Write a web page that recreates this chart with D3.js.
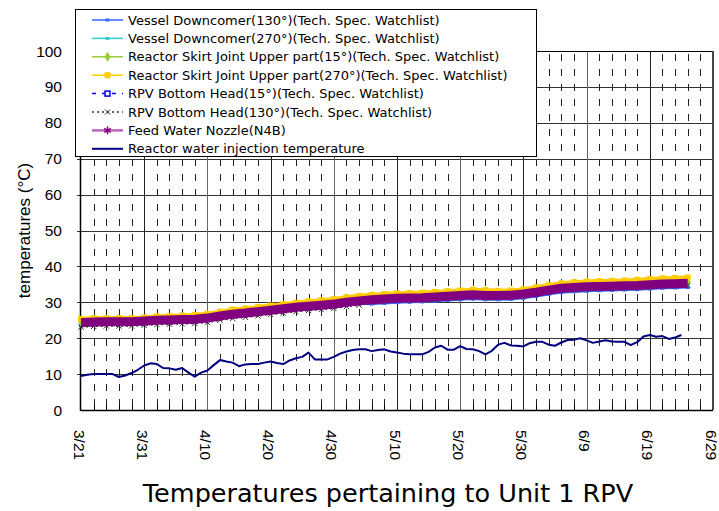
<!DOCTYPE html>
<html>
<head>
<meta charset="utf-8">
<script src="https://cdn.jsdelivr.net/npm/d3@7"></script>
<style>
  body { margin: 0; background: #fff; }
  svg { display: block; }
</style>
</head>
<body>
<div id="chart"></div>
<script>
// start of the period and the x tick labels (every 10 days)
var startDate = new Date(Date.UTC(2011, 2, 21))
var endDate = new Date(Date.UTC(2011, 5, 29))
var xTickLabels = ["3/21", "3/31", "4/10", "4/20", "4/30", "5/10", "5/20", "5/30", "6/9", "6/19", "6/29"]
var yTicks = [0, 10, 20, 30, 40, 50, 60, 70, 80, 90, 100]

// RPV thermometers, one reading every 2 days from 3/21
var vesselDown130 = [23.5, 23.7, 23.8, 23.8, 23.8, 24.0, 24.2, 24.3, 24.4, 24.5, 24.8, 25.4, 25.9, 26.2, 26.6, 27.0, 27.4, 27.8, 28.1, 28.4, 28.7, 29.2, 29.6, 29.5, 29.7, 29.9, 30.0, 30.1, 30.3, 30.5, 30.7, 30.9, 30.7, 30.7, 30.8, 31.1, 31.6, 32.2, 32.7, 32.9, 33.1, 33.2, 33.3, 33.4, 33.5, 33.7, 33.9, 34.0, 34.1]
var vesselDown270 = [24.0, 24.2, 24.3, 24.3, 24.3, 24.5, 24.7, 24.8, 24.9, 25.0, 25.3, 25.9, 26.4, 26.7, 27.1, 27.5, 27.9, 28.3, 28.6, 28.9, 29.2, 29.7, 30.1, 30.4, 30.6, 30.8, 30.9, 31.0, 31.2, 31.4, 31.6, 31.8, 31.6, 31.6, 31.7, 32.0, 32.5, 33.1, 33.6, 33.8, 34.0, 34.1, 34.2, 34.3, 34.4, 34.6, 34.8, 34.9, 35.0]
var skirtUpper15 = [24.7, 24.9, 25.0, 25.0, 25.0, 25.2, 25.4, 25.5, 25.6, 25.7, 26.0, 26.6, 27.1, 27.4, 27.8, 28.2, 28.6, 29.0, 29.3, 29.6, 29.9, 30.4, 30.8, 31.1, 31.3, 31.5, 31.6, 31.7, 31.9, 32.1, 32.3, 32.5, 32.3, 32.3, 32.4, 32.7, 33.2, 33.8, 34.3, 34.5, 34.7, 34.8, 34.9, 35.0, 35.1, 35.3, 35.5, 35.6, 35.7]
var skirtUpper270 = [25.4, 25.6, 25.6, 25.6, 25.6, 25.8, 26.1, 26.2, 26.3, 26.5, 26.8, 27.4, 28.0, 28.3, 28.7, 29.1, 29.5, 29.9, 30.3, 30.6, 30.9, 31.4, 31.8, 32.1, 32.3, 32.5, 32.6, 32.7, 32.9, 33.1, 33.3, 33.5, 33.4, 33.2, 33.3, 33.6, 34.2, 34.8, 35.3, 35.6, 35.8, 35.9, 36.0, 36.1, 36.3, 36.5, 36.7, 36.8, 36.9]
var bottomHead15 = [23.8, 24.0, 24.1, 24.1, 24.1, 24.3, 24.5, 24.6, 24.7, 24.8, 25.1, 25.7, 26.2, 26.5, 26.9, 27.3, 27.7, 28.1, 28.4, 28.7, 29.0, 29.5, 29.9, 30.2, 30.4, 30.6, 30.7, 30.8, 31.0, 31.2, 31.4, 31.6, 31.4, 31.4, 31.5, 31.8, 32.3, 32.9, 33.4, 33.6, 33.8, 33.9, 34.0, 34.1, 34.2, 34.4, 34.6, 34.7, 34.8]
var bottomHead130 = [23.1, 23.3, 23.4, 23.4, 23.4, 23.6, 23.8, 23.9, 24.0, 24.1, 24.4, 25.0, 25.5, 25.8, 26.2, 26.6, 27.0, 27.4, 27.7, 28.0, 28.3, 28.8, 29.2, 30.1, 30.3, 30.5, 30.6, 30.7, 30.9, 31.1, 31.3, 31.5, 31.3, 31.3, 31.4, 31.7, 32.2, 32.8, 33.3, 33.5, 33.7, 33.8, 33.9, 34.0, 34.1, 34.3, 34.5, 34.6, 34.7]
var feedWaterNozzle = [24.3, 24.5, 24.6, 24.6, 24.6, 24.8, 25.0, 25.1, 25.2, 25.3, 25.6, 26.2, 26.7, 27.0, 27.4, 27.8, 28.2, 28.6, 28.9, 29.2, 29.5, 30.0, 30.4, 30.7, 30.9, 31.1, 31.2, 31.3, 31.5, 31.7, 31.9, 32.1, 31.9, 31.9, 32.0, 32.3, 32.8, 33.4, 33.9, 34.1, 34.3, 34.4, 34.5, 34.6, 34.7, 34.9, 35.1, 35.2, 35.3]

// injection water, daily from 3/21
var injectionTemp = [9.5, 9.8, 10, 10, 10, 10, 9.2, 9.6, 10.3, 11.2,
    12.4, 13, 12.8, 11.7, 11.6, 11.2, 11.7, 10.4, 9.3, 10.4,
    11, 12.5, 13.9, 13.5, 13.2, 12.2, 12.7, 12.8, 12.8, 13.2,
    13.5, 13.1, 12.8, 13.8, 14.4, 14.8, 16, 14.1, 14.1, 14.1,
    14.8, 15.7, 16.3, 16.7, 16.9, 16.9, 16.4, 16.7, 16.9, 16.3,
    16, 15.7, 15.5, 15.5, 15.5, 16.2, 17.4, 17.9, 16.8, 16.8,
    17.8, 17, 16.9, 16.4, 15.5, 16.5, 18.2, 18.7, 18, 17.9,
    17.7, 18.6, 19, 19, 18.2, 17.9, 18.8, 19.5, 19.6, 20,
    19.4, 18.7, 19.1, 19.4, 19.1, 19, 19, 18.1, 18.9, 20.5,
    20.9, 20.4, 20.6, 19.8, 20.2, 20.9]

var series = [
    { name: "Vessel Downcomer(130°)(Tech. Spec. Watchlist)", values: vesselDown130, step: 2, color: "#3366ff", width: 2, marker: "dash" },
    { name: "Vessel Downcomer(270°)(Tech. Spec. Watchlist)", values: vesselDown270, step: 2, color: "#33cccc", width: 2, marker: "dash" },
    { name: "Reactor Skirt Joint Upper part(15°)(Tech. Spec. Watchlist)", values: skirtUpper15, step: 2, color: "#99cc33", width: 2, marker: "diamond" },
    { name: "Reactor Skirt Joint Upper part(270°)(Tech. Spec. Watchlist)", values: skirtUpper270, step: 2, color: "#ffcc00", width: 4, marker: "square" },
    { name: "RPV Bottom Head(15°)(Tech. Spec. Watchlist)", values: bottomHead15, step: 2, color: "#0000ff", width: 2, marker: "hollow", dash: "4,6" },
    { name: "RPV Bottom Head(130°)(Tech. Spec. Watchlist)", values: bottomHead130, step: 2, color: "#333333", width: 1.5, marker: "cross", dash: "2,3" },
    { name: "Feed Water Nozzle(N4B)", values: feedWaterNozzle, step: 2, color: "#800080", width: 9, marker: "star" },
    { name: "Reactor water injection temperature", values: injectionTemp, step: 1, color: "#000080", width: 2, marker: null }
]

var W = 719, H = 511
var plotL = 81, plotR = 713, plotT = 51, plotB = 410

var svg = d3.select("#chart").append("svg")
    .attr("width", W).attr("height", H)

var x = d3.scaleUtc().domain([startDate, endDate]).range([plotL, plotR])
var y = d3.scaleLinear().domain([0, 100]).range([plotB, plotT])

function dayOf(i, step) { return d3.utcDay.offset(startDate, i * step) }
function parseLabel(s) {
    var p = s.split("/")
    return new Date(Date.UTC(2011, +p[0] - 1, +p[1]))
}

// dashed minor grid, every 2 days
var minorDays = d3.utcDay.range(startDate, endDate, 1).filter(function (d, i) { return i % 2 == 0 && i % 10 != 0 })
var grid = svg.append("g")
grid.selectAll(".minor")
    .data(minorDays)
    .enter().append("line")
    .attr("x1", function (d) { return Math.round(x(d)) + 0.5 })
    .attr("x2", function (d) { return Math.round(x(d)) + 0.5 })
    .attr("y1", plotT + 3).attr("y2", plotB)
    .attr("stroke", "#222")
    .attr("stroke-dasharray", "7,8")

// minor ticks on the bottom axis
grid.selectAll(".mtick")
    .data(minorDays)
    .enter().append("line")
    .attr("x1", function (d) { return Math.round(x(d)) + 0.5 })
    .attr("x2", function (d) { return Math.round(x(d)) + 0.5 })
    .attr("y1", plotB - 5).attr("y2", plotB)
    .attr("stroke", "#000")

// horizontal grid
grid.selectAll(".hgrid")
    .data(yTicks.slice(1, -1))
    .enter().append("line")
    .attr("x1", plotL - 4).attr("x2", plotR)
    .attr("y1", function (d) { return Math.round(y(d)) + 0.5 })
    .attr("y2", function (d) { return Math.round(y(d)) + 0.5 })
    .attr("stroke", "#333")

// major vertical grid
grid.selectAll(".vgrid")
    .data(xTickLabels.slice(1, -1))
    .enter().append("line")
    .attr("x1", function (d) { return Math.round(x(parseLabel(d))) + 0.5 })
    .attr("x2", function (d) { return Math.round(x(parseLabel(d))) + 0.5 })
    .attr("y1", plotT).attr("y2", plotB)
    .attr("stroke", function (d, i) { return i % 2 ? "#666" : "#222" })

// frame
svg.append("line").attr("x1", plotL).attr("x2", plotR).attr("y1", plotT + 0.5).attr("y2", plotT + 0.5).attr("stroke", "#000")
svg.append("line").attr("x1", plotR).attr("x2", plotR).attr("y1", plotT).attr("y2", plotB).attr("stroke", "#444").attr("stroke-width", 2)
svg.append("line").attr("x1", plotL - 0.5).attr("x2", plotL - 0.5).attr("y1", plotT).attr("y2", plotB + 1).attr("stroke", "#000").attr("stroke-width", 1.5)
svg.append("line").attr("x1", plotL).attr("x2", plotR).attr("y1", plotB + 0.5).attr("y2", plotB + 0.5).attr("stroke", "#000").attr("stroke-width", 1.5)

// y tick labels
svg.append("g").selectAll("text")
    .data(yTicks)
    .enter().append("text")
    .attr("x", 62)
    .attr("y", function (d) { return y(d) })
    .attr("dy", "0.36em")
    .attr("text-anchor", "end")
    .attr("font-family", "Liberation Sans, Arial, sans-serif")
    .attr("font-size", "15.5px")
    .text(function (d) { return d })

// x tick labels, rotated
svg.append("g").selectAll("text")
    .data(xTickLabels)
    .enter().append("text")
    .attr("transform", function (d) { return "translate(" + (x(parseLabel(d)) - 2) + ",430) rotate(90)" })
    .attr("dy", "0.35em")
    .attr("font-family", "Liberation Sans, Arial, sans-serif")
    .attr("font-size", "15.5px")
    .text(function (d) { return d })

// y axis title
svg.append("text")
    .attr("transform", "translate(30," + ((plotT + plotB) / 2) + ") rotate(-90)")
    .attr("text-anchor", "middle")
    .attr("font-family", "Liberation Sans, Arial, sans-serif")
    .attr("font-size", "17px")
    .text("temperatures (°C)")

// chart title
svg.append("text")
    .attr("x", 388).attr("y", 502)
    .attr("text-anchor", "middle")
    .attr("font-family", "DejaVu Sans, sans-serif")
    .attr("font-size", "25.5px")
    .text("Temperatures pertaining to Unit 1 RPV")

function drawMarker(g, s, cx, cy) {
    if (s.marker == "dash") {
        g.append("rect").attr("x", cx - 2).attr("y", cy - 1.5).attr("width", 4).attr("height", 3).attr("fill", s.color)
    } else if (s.marker == "diamond") {
        g.append("path").attr("d", d3.symbol(d3.symbolDiamond, 30)()).attr("transform", "translate(" + cx + "," + cy + ")").attr("fill", s.color)
    } else if (s.marker == "square") {
        g.append("rect").attr("x", cx - 3).attr("y", cy - 3).attr("width", 6).attr("height", 6).attr("fill", s.color)
    } else if (s.marker == "hollow") {
        g.append("rect").attr("x", cx - 2.5).attr("y", cy - 2.5).attr("width", 5).attr("height", 5).attr("fill", "#fff").attr("stroke", s.color).attr("stroke-width", 1.5)
    } else if (s.marker == "cross") {
        g.append("path").attr("d", d3.symbol(d3.symbolX, 20)()).attr("transform", "translate(" + cx + "," + cy + ")").attr("stroke", s.color).attr("stroke-width", 1)
    } else if (s.marker == "star") {
        g.append("path").attr("d", d3.symbol(d3.symbolAsterisk, 40)()).attr("transform", "translate(" + cx + "," + cy + ")").attr("stroke", s.color).attr("stroke-width", 1.5)
    }
}

// the series
var plot = svg.append("g")
series.forEach(function (s) {
    var pts = s.values.map(function (v, i) { return [x(dayOf(i, s.step)), y(v)] })
    plot.append("path")
        .attr("d", d3.line()(pts))
        .attr("fill", "none")
        .attr("stroke", s.color)
        .attr("stroke-width", s.width)
        .attr("stroke-linejoin", "round")
        .attr("stroke-dasharray", s.dash || null)
    if (s.marker && s.marker != "star" && s.marker != "hollow") {
        var mg = plot.append("g")
        pts.forEach(function (p) { drawMarker(mg, s, p[0], p[1]) })
    }
})

// legend
var lg = svg.append("g")
lg.append("rect")
    .attr("x", 75.5).attr("y", 9.5).attr("width", 461).attr("height", 147)
    .attr("fill", "#fff").attr("stroke", "#000")
series.forEach(function (s, i) {
    var ly = 20 + i * 18.4
    lg.append("line")
        .attr("x1", 92).attr("x2", 123).attr("y1", ly).attr("y2", ly)
        .attr("stroke", s.marker == "star" ? "#bb66bb" : s.color)
        .attr("stroke-width", s.marker == "star" ? 2.5 : (s.color == "#000080" ? 2 : 1.5))
        .attr("stroke-dasharray", s.dash || null)
    if (s.marker) drawMarker(lg, s, 107.5, ly)
    lg.append("text")
        .attr("x", 128).attr("y", ly)
        .attr("dy", "0.36em")
        .attr("font-family", "DejaVu Sans, sans-serif")
        .attr("font-size", "13px")
        .text(s.name)
})
</script>
</body>
</html>
